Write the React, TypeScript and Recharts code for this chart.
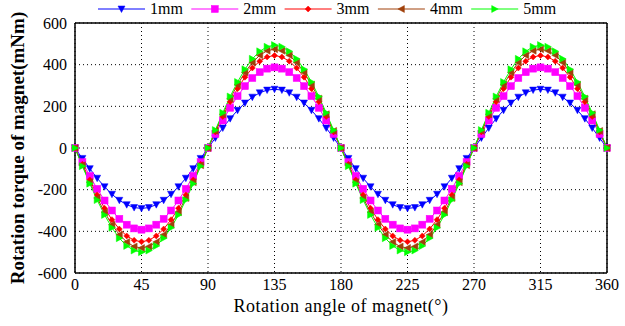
import React from 'react';
import { LineChart, Line, XAxis, YAxis, CartesianGrid, ReferenceLine } from 'recharts';

const angles = [
  0, 5, 10, 15, 20, 25, 30, 35, 40, 45, 50, 55, 60, 65, 70, 75, 80, 85, 90,
  95, 100, 105, 110, 115, 120, 125, 130, 135, 140, 145, 150, 155, 160, 165, 170, 175, 180,
  185, 190, 195, 200, 205, 210, 215, 220, 225, 230, 235, 240, 245, 250, 255, 260, 265, 270,
  275, 280, 285, 290, 295, 300, 305, 310, 315, 320, 325, 330, 335, 340, 345, 350, 355, 360,
];

const mm1 = [
  0, -50, -99, -145, -186, -222, -251, -272, -286, -290,
  -286, -272, -251, -222, -186, -145, -99, -50, 0,
  48, 96, 141, 181, 216, 244, 265, 278, 282,
  278, 265, 244, 216, 181, 141, 96, 48, 0,
  -50, -99, -145, -186, -222, -251, -272, -286, -290,
  -286, -272, -251, -222, -186, -145, -99, -50, 0,
  48, 96, 141, 181, 216, 244, 265, 278, 282,
  278, 265, 244, 216, 181, 141, 96, 48, 0,
];

const mm2 = [
  0, -68, -134, -196, -252, -300, -340, -368, -386, -392,
  -386, -368, -340, -300, -252, -196, -134, -68, 0,
  67, 132, 193, 249, 297, 336, 364, 381, 387,
  381, 364, 336, 297, 249, 193, 132, 67, 0,
  -68, -134, -196, -252, -300, -340, -368, -386, -392,
  -386, -368, -340, -300, -252, -196, -134, -68, 0,
  67, 132, 193, 249, 297, 336, 364, 381, 387,
  381, 364, 336, 297, 249, 193, 132, 67, 0,
];

const mm3 = [
  0, -78, -153, -225, -289, -344, -389, -422, -443, -450,
  -443, -422, -389, -344, -289, -225, -153, -78, 0,
  77, 151, 222, 285, 340, 384, 417, 437, 444,
  437, 417, 384, 340, 285, 222, 151, 77, 0,
  -78, -153, -225, -289, -344, -389, -422, -443, -450,
  -443, -422, -389, -344, -289, -225, -153, -78, 0,
  77, 151, 222, 285, 340, 384, 417, 437, 444,
  437, 417, 384, 340, 285, 222, 151, 77, 0,
];

const mm4 = [
  0, -83, -164, -240, -308, -368, -416, -451, -473, -480,
  -473, -451, -416, -368, -308, -240, -164, -83, 0,
  82, 162, 237, 304, 363, 410, 445, 467, 474,
  467, 445, 410, 363, 304, 237, 162, 82, 0,
  -83, -164, -240, -308, -368, -416, -451, -473, -480,
  -473, -451, -416, -368, -308, -240, -164, -83, 0,
  82, 162, 237, 304, 363, 410, 445, 467, 474,
  467, 445, 410, 363, 304, 237, 162, 82, 0,
];

const mm5 = [
  0, -87, -171, -250, -321, -383, -433, -470, -492, -500,
  -492, -470, -433, -383, -321, -250, -171, -87, 0,
  86, 169, 247, 317, 378, 428, 464, 486, 494,
  486, 464, 428, 378, 317, 247, 169, 86, 0,
  -87, -171, -250, -321, -383, -433, -470, -492, -500,
  -492, -470, -433, -383, -321, -250, -171, -87, 0,
  86, 169, 247, 317, 378, 428, 464, 486, 494,
  486, 464, 428, 378, 317, 247, 169, 86, 0,
];

const xTicks = [0, 45, 90, 135, 180, 225, 270, 315, 360];
const yTicks = [-600, -400, -200, 0, 200, 400, 600];

const FONT = 'Liberation Serif';

type Shape = 'down' | 'square' | 'diamond' | 'left' | 'right';

const SERIES: { key: string; name: string; color: string; shape: Shape }[] = [
  { key: 'mm1', name: '1mm', color: '#0000ff', shape: 'down' },
  { key: 'mm2', name: '2mm', color: '#ff00ff', shape: 'square' },
  { key: 'mm3', name: '3mm', color: '#ff0000', shape: 'diamond' },
  { key: 'mm4', name: '4mm', color: '#a0400a', shape: 'left' },
  { key: 'mm5', name: '5mm', color: '#00ff00', shape: 'right' },
];

const data = angles.map((a, i) => ({
  angle: a,
  mm1: mm1[i],
  mm2: mm2[i],
  mm3: mm3[i],
  mm4: mm4[i],
  mm5: mm5[i],
}));

function marker(shape: Shape, x: number, y: number, color: string, key?: any) {
  switch (shape) {
    case 'down':
      return <path key={key} d={`M${x - 3.5},${y - 3} L${x + 3.5},${y - 3} L${x},${y + 3.5} Z`} fill={color} stroke={color} strokeWidth={0.5} />;
    case 'square':
      return <rect key={key} x={x - 3.5} y={y - 3.5} width={7} height={7} fill={color} stroke={color} strokeWidth={0.5} />;
    case 'diamond':
      return <path key={key} d={`M${x},${y - 3} L${x + 3},${y} L${x},${y + 3} L${x - 3},${y} Z`} fill={color} stroke={color} strokeWidth={0.5} />;
    case 'left':
      return <path key={key} d={`M${x - 3.5},${y} L${x + 3},${y - 3.5} L${x + 3},${y + 3.5} Z`} fill={color} stroke={color} strokeWidth={0.5} />;
    case 'right':
      return <path key={key} d={`M${x + 3.5},${y} L${x - 3},${y - 3.5} L${x - 3},${y + 3.5} Z`} fill={color} stroke={color} strokeWidth={0.5} />;
  }
}

const makeDot = (shape: Shape, color: string) => (props: any) => {
  const { cx, cy, index } = props;
  if (cx == null || cy == null) return <g key={`d-${index}`} />;
  return marker(shape, cx, cy, color, `d-${index}`);
};

const LegendBox = () => (
  <svg width={625} height={20} style={{ position: 'absolute', left: 0, top: 0 }}>
    {SERIES.map((s, i) => {
      const x0 = 98 + i * 93.3;
      return (
        <g key={s.key}>
          <line x1={x0} x2={x0 + 47} y1={9} y2={9} stroke={s.color} strokeWidth={1} />
          {marker(s.shape, x0 + 23.5, 9, s.color)}
          <text x={x0 + 52} y={14} style={{ fontFamily: FONT }} fontSize={16} fill="#000">
            {s.name}
          </text>
        </g>
      );
    })}
  </svg>
);

export default function App() {
  return (
    <div style={{ position: 'absolute', left: 0, top: 0, width: 625, height: 326, background: '#fff', fontFamily: FONT }}>
      <LineChart width={625} height={326} data={data} margin={{ top: 23, right: 18, bottom: 0, left: 0 }} style={{ fontFamily: FONT }}>
        <CartesianGrid stroke="#000" strokeDasharray="1 3" strokeWidth={1} />
        <XAxis
          dataKey="angle"
          type="number"
          domain={[0, 360]}
          ticks={xTicks}
          interval={0}
          height={53}
          tickLine={false}
          tickSize={6}
          tickMargin={0}
          axisLine={{ stroke: '#000', strokeWidth: 1.5 }}
          tick={{ fill: '#000', fontSize: 16, style: { fontFamily: FONT } }}
          label={{ value: 'Rotation angle of magnet(°)', position: 'center', dy: 6, style: { fill: '#000', fontFamily: FONT, fontSize: 18, letterSpacing: 0.5 } }}
        />
        <YAxis
          type="number"
          domain={[-600, 600]}
          ticks={yTicks}
          interval={0}
          width={75}
          tickLine={false}
          axisLine={{ stroke: '#000', strokeWidth: 1.5 }}
          tick={{ fill: '#000', fontSize: 16, style: { fontFamily: FONT } }}
          label={{ value: 'Rotation torque of magnet(mNm)', angle: -90, position: 'center', dx: -20, style: { fill: '#000', fontFamily: FONT, fontSize: 19, fontWeight: 'bold' } }}
        />
        <ReferenceLine y={600} stroke="#000" strokeWidth={1.5} />
        <ReferenceLine x={360} stroke="#000" strokeWidth={1.5} />
        {SERIES.map((s) => (
          <Line
            key={s.key}
            dataKey={s.key}
            name={s.name}
            stroke={s.color}
            strokeWidth={1}
            dot={makeDot(s.shape, s.color)}
            activeDot={false}
            isAnimationActive={false}
            type="linear"
          />
        ))}
      </LineChart>
      <LegendBox />
    </div>
  );
}
